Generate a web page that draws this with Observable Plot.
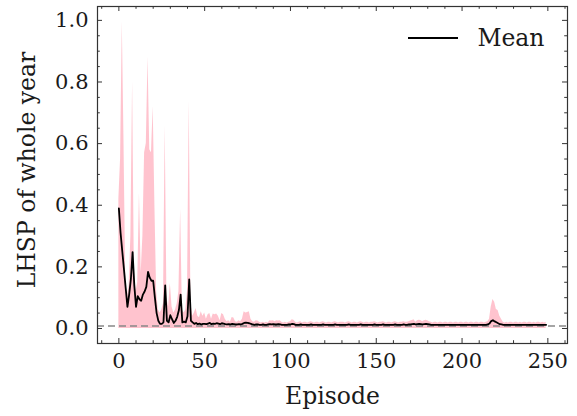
<!DOCTYPE html>
<html>
<head>
<meta charset="utf-8">
<script src="https://cdn.jsdelivr.net/npm/d3@7"></script>
<script src="https://cdn.jsdelivr.net/npm/@observablehq/plot@0.6"></script>
<style>
  html, body { margin: 0; padding: 0; background: #fff; }
  #chart { width: 577px; height: 416px; }
</style>
</head>
<body>
<div id="chart"></div>
<script>
// Mean LHSP per episode (episodes 0..249)
const meanValues = [
  0.39,0.31,0.25,0.19,0.13,0.07,0.11,0.16,0.248,0.14,
  0.07,0.105,0.095,0.09,0.11,0.12,0.135,0.184,0.165,0.155,
  0.155,0.10,0.05,0.025,0.015,0.015,0.02,0.14,0.025,0.02,
  0.043,0.03,0.018,0.025,0.038,0.06,0.11,0.02,0.022,0.02,
  0.04,0.159,0.025,0.02,0.015,0.018,0.014,0.016,0.013,0.015,
  0.015,0.014,0.016,0.018,0.014,0.016,0.015,0.017,0.016,0.014,
  0.017,0.016,0.014,0.013,0.014,0.013,0.015,0.014,0.013,0.013,
  0.014,0.013,0.015,0.018,0.019,0.018,0.017,0.015,0.013,0.012,
  0.013,0.013,0.012,0.012,0.013,0.012,0.012,0.013,0.014,0.013,
  0.014,0.013,0.013,0.014,0.013,0.012,0.012,0.012,0.012,0.013,
  0.013,0.015,0.014,0.012,0.012,0.012,0.013,0.012,0.012,0.012,
  0.012,0.012,0.013,0.012,0.012,0.012,0.012,0.012,0.012,0.013,
  0.012,0.012,0.012,0.012,0.012,0.012,0.013,0.012,0.012,0.012,
  0.012,0.012,0.012,0.012,0.013,0.012,0.012,0.012,0.012,0.012,
  0.012,0.013,0.012,0.012,0.012,0.012,0.012,0.012,0.012,0.013,
  0.012,0.012,0.012,0.012,0.013,0.012,0.012,0.012,0.012,0.012,
  0.012,0.013,0.012,0.012,0.012,0.012,0.013,0.012,0.012,0.013,
  0.013,0.014,0.015,0.013,0.014,0.015,0.014,0.013,0.014,0.015,
  0.014,0.013,0.012,0.012,0.012,0.012,0.012,0.012,0.012,0.012,
  0.012,0.012,0.012,0.012,0.012,0.012,0.012,0.012,0.012,0.012,
  0.012,0.012,0.012,0.012,0.012,0.012,0.012,0.012,0.012,0.012,
  0.012,0.012,0.012,0.012,0.012,0.013,0.016,0.024,0.027,0.023,
  0.020,0.017,0.014,0.013,0.012,0.012,0.012,0.012,0.012,0.012,
  0.012,0.012,0.012,0.012,0.012,0.012,0.012,0.012,0.012,0.012,
  0.012,0.012,0.012,0.012,0.012,0.012,0.012,0.012,0.012,0.012
];
// Upper edge of the shaded (pink) band per episode
const upperValues = [
  0.42,0.55,0.995,0.6,0.15,0.1,0.14,0.3,0.80,0.2,
  0.12,0.15,0.437,0.18,0.3,0.57,0.6,0.88,0.58,0.57,
  0.72,0.4,0.12,0.06,0.05,0.06,0.08,0.657,0.1,0.07,
  0.146,0.07,0.05,0.06,0.08,0.12,0.386,0.06,0.05,0.06,
  0.12,0.737,0.08,0.04,0.05,0.065,0.04,0.035,0.054,0.04,
  0.05,0.03,0.045,0.049,0.03,0.047,0.045,0.047,0.04,0.025,
  0.049,0.045,0.03,0.022,0.025,0.02,0.036,0.034,0.022,0.02,
  0.025,0.022,0.03,0.054,0.05,0.052,0.054,0.03,0.022,0.02,
  0.025,0.024,0.02,0.018,0.02,0.018,0.02,0.018,0.025,0.024,
  0.025,0.022,0.025,0.024,0.025,0.02,0.018,0.02,0.018,0.02,
  0.022,0.028,0.027,0.02,0.018,0.02,0.022,0.018,0.02,0.02,
  0.018,0.02,0.022,0.02,0.018,0.02,0.02,0.018,0.02,0.022,
  0.02,0.018,0.02,0.02,0.018,0.02,0.022,0.02,0.018,0.02,
  0.02,0.02,0.018,0.02,0.022,0.02,0.018,0.02,0.02,0.018,
  0.02,0.022,0.02,0.018,0.02,0.02,0.018,0.02,0.02,0.022,
  0.02,0.018,0.02,0.02,0.022,0.02,0.018,0.02,0.02,0.018,
  0.02,0.022,0.02,0.018,0.02,0.02,0.022,0.02,0.02,0.022,
  0.024,0.026,0.028,0.02,0.025,0.027,0.026,0.022,0.025,0.027,
  0.025,0.022,0.02,0.018,0.02,0.02,0.018,0.02,0.02,0.018,
  0.02,0.02,0.018,0.02,0.02,0.018,0.02,0.02,0.018,0.02,
  0.02,0.018,0.02,0.02,0.018,0.02,0.02,0.018,0.02,0.02,
  0.018,0.02,0.02,0.018,0.02,0.022,0.03,0.07,0.094,0.085,
  0.062,0.058,0.04,0.03,0.02,0.018,0.02,0.018,0.02,0.02,
  0.018,0.02,0.02,0.018,0.02,0.018,0.02,0.02,0.018,0.02,
  0.02,0.018,0.02,0.018,0.02,0.02,0.018,0.02,0.018,0.02
];
const baselineValue = 0.008;          // dashed reference line
const xMajorTicks = [0, 50, 100, 150, 200, 250];
const xMinorTicks = [-10,10,20,30,40,60,70,80,90,110,120,130,140,160,170,180,190,210,220,230,240,260];
const yMajorTicks = [0.0, 0.2, 0.4, 0.6, 0.8, 1.0];
const yMinorTicks = [0.05,0.1,0.15,0.25,0.3,0.35,0.45,0.5,0.55,0.65,0.7,0.75,0.85,0.9,0.95];
const yTickLabels = ["0.0","0.2","0.4","0.6","0.8","1.0"];

const data = meanValues.map((m, i) => ({episode: i, mean: m, upper: upperValues[i]}));

const W = 577, H = 416;
const mL = 97, mR = 10, mT = 6, mB = 73;
const innerW = W - mL - mR, innerH = H - mT - mB;
const FONT = "DejaVu Serif";
const majorLen = 5, minorLen = 2.8;
const TXT = "#1a1a1a";

const chart = Plot.plot({
  width: W, height: H,
  marginLeft: mL, marginRight: mR, marginTop: mT, marginBottom: mB,
  style: {fontFamily: FONT, background: "#fff", color: TXT},
  x: {domain: [-12.45, 261.45]},
  y: {domain: [-0.0487, 1.045]},
  marks: [
    Plot.areaY(data, {x: "episode", y1: 0, y2: "upper", fill: "#ffc0cb", fillOpacity: 0.95, curve: "linear"}),
    Plot.ruleY([baselineValue], {stroke: "#888", strokeWidth: 1.5, strokeDasharray: "7,4"}),
    Plot.line(data, {x: "episode", y: "mean", stroke: "#000", strokeWidth: 1.8}),
    // inward ticks on all four sides
    Plot.ruleX(xMajorTicks, {x: d => d, insetTop: innerH - majorLen, stroke: "#333", strokeWidth: 1}),
    Plot.ruleX(xMajorTicks, {x: d => d, insetBottom: innerH - majorLen, stroke: "#333", strokeWidth: 1}),
    Plot.ruleX(xMinorTicks, {x: d => d, insetTop: innerH - minorLen, stroke: "#333", strokeWidth: 1}),
    Plot.ruleX(xMinorTicks, {x: d => d, insetBottom: innerH - minorLen, stroke: "#333", strokeWidth: 1}),
    Plot.ruleY(yMajorTicks, {y: d => d, insetRight: innerW - majorLen, stroke: "#333", strokeWidth: 1}),
    Plot.ruleY(yMajorTicks, {y: d => d, insetLeft: innerW - majorLen, stroke: "#333", strokeWidth: 1}),
    Plot.ruleY(yMinorTicks, {y: d => d, insetRight: innerW - minorLen, stroke: "#333", strokeWidth: 1}),
    Plot.ruleY(yMinorTicks, {y: d => d, insetLeft: innerW - minorLen, stroke: "#333", strokeWidth: 1}),
    Plot.frame({stroke: "#333", strokeWidth: 1.2}),
    Plot.axisX(xMajorTicks, {tickSize: 0, tickPadding: 10, fontSize: 21, label: null, fill: TXT}),
    Plot.axisY(yMajorTicks, {tickSize: 0, tickPadding: 9, fontSize: 21, label: null, fill: TXT,
      tickFormat: d => yTickLabels[yMajorTicks.indexOf(d)]}),
    Plot.text(["Episode"], {frameAnchor: "bottom", lineAnchor: "middle", dy: 53, fontSize: 23.5, fill: TXT}),
    Plot.text(["LHSP of whole year"], {frameAnchor: "left", textAnchor: "middle", lineAnchor: "middle",
      dx: -70, dy: -5, rotate: -90, fontSize: 23.5, fill: TXT}),
    Plot.text(["Mean"], {frameAnchor: "top-right", lineAnchor: "middle", dx: -23, dy: 32, textAnchor: "end",
      fontSize: 23.5, fill: TXT})
  ]
});

// legend sample line
const svg = d3.select(chart);
svg.append("line")
  .attr("x1", 408).attr("x2", 458).attr("y1", 38).attr("y2", 38)
  .attr("stroke", "#000").attr("stroke-width", 1.8);

document.getElementById("chart").appendChild(chart);
</script>
</body>
</html>
